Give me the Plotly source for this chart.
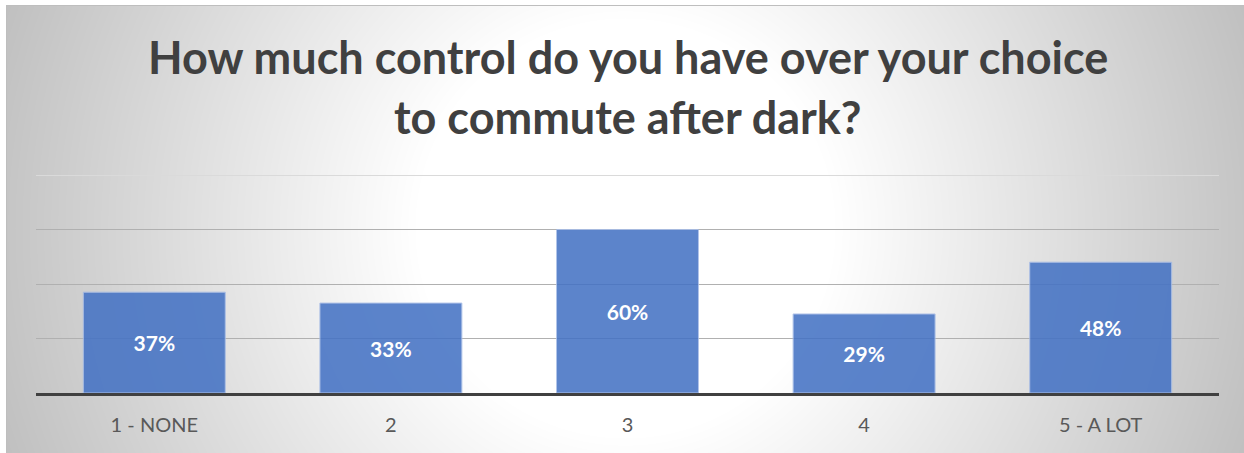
import base64
import struct
import zlib

import numpy as np
import plotly.graph_objects as go

# ---- data ----
categories = ["1 - NONE", "2", "3", "4", "5 - A LOT"]
values = [0.37, 0.33, 0.60, 0.29, 0.48]
value_labels = ["37%", "33%", "60%", "29%", "48%"]
title_lines = ["How much control do you have over your choice", "to commute after dark?"]

# ---- layout geometry (pixels) ----
FIG_W, FIG_H = 1244, 453
M_L, M_R, M_T, M_B = 36, 25, 170, 60
PLOT_W = FIG_W - M_L - M_R
PLOT_H = FIG_H - M_T - M_B
FRAME_X0, FRAME_Y0 = 6, 5
BASE_PX = FIG_H - M_B          # pixel row of 0
TOP_GRID_PX = 175              # pixel row of 80 %
Y_MAX = 0.8 * PLOT_H / (BASE_PX - TOP_GRID_PX)


def px_to_paper_x(px):
    return (px - M_L) / PLOT_W


def px_to_paper_y(py):
    return (FIG_H - M_B - py) / PLOT_H


# ---- radial gradient background image ----
def make_png(arr):
    h, w = arr.shape
    raw = b"".join(b"\x00" + arr[i].tobytes() for i in range(h))

    def chunk(tag, data):
        c = struct.pack(">I", len(data)) + tag + data
        return c + struct.pack(">I", zlib.crc32(tag + data) & 0xFFFFFFFF)

    png = b"\x89PNG\r\n\x1a\n"
    png += chunk(b"IHDR", struct.pack(">IIBBBBB", w, h, 8, 0, 0, 0, 0))
    png += chunk(b"IDAT", zlib.compress(raw, 9))
    png += chunk(b"IEND", b"")
    return "data:image/png;base64," + base64.b64encode(png).decode()


IW, IH = FIG_W - FRAME_X0, FIG_H - FRAME_Y0
cx, cy = 625 - FRAME_X0, 228 - FRAME_Y0
yy, xx = np.mgrid[0:IH, 0:IW]
r = np.sqrt((xx - cx) ** 2 + (yy - cy) ** 2)
R0, R1 = 210.0, 660.0
t = np.clip((r - R0) / (R1 - R0), 0, 1)
g = 255 - 63 * t
g = g.astype(np.uint8)
g[0, :] = 190
g[:, 0] = 190
bg_src = make_png(g)

fig = go.Figure()
fig.add_trace(
    go.Bar(
        x=categories,
        y=values,
        text=value_labels,
        textposition="inside",
        insidetextanchor="middle",
        textangle=0,
        textfont=dict(family="Lato", size=21, color="white", weight="bold"),
        marker=dict(color="#4472C4", opacity=0.87, line=dict(color="#a6bce6", width=1)),
        hoverinfo="skip",
    )
)

fig.add_layout_image(
    dict(
        source=bg_src,
        xref="paper",
        yref="paper",
        x=px_to_paper_x(FRAME_X0),
        y=px_to_paper_y(FRAME_Y0),
        sizex=IW / PLOT_W,
        sizey=IH / PLOT_H,
        xanchor="left",
        yanchor="top",
        sizing="stretch",
        layer="below",
    )
)

title_y = [57, 117]
for line, py in zip(title_lines, title_y):
    fig.add_annotation(
        text=line,
        xref="paper",
        yref="paper",
        x=0.5,
        y=px_to_paper_y(py),
        xanchor="center",
        yanchor="middle",
        showarrow=False,
        font=dict(family="Lato", size=45, color="#404040", weight="bold"),
    )

fig.update_layout(
    width=FIG_W,
    height=FIG_H,
    margin=dict(l=M_L, r=M_R, t=M_T, b=M_B, pad=0),
    paper_bgcolor="white",
    plot_bgcolor="rgba(0,0,0,0)",
    bargap=0.4,
    showlegend=False,
    xaxis=dict(
        showline=True,
        linecolor="#404040",
        linewidth=3,
        ticks="outside",
        ticklen=12,
        tickcolor="rgba(0,0,0,0)",
        tickfont=dict(family="Lato", size=20, color="#595959"),
        showgrid=False,
        fixedrange=True,
    ),
    yaxis=dict(
        range=[0, Y_MAX],
        tickvals=[0.2, 0.4, 0.6],
        showticklabels=False,
        showgrid=True,
        gridcolor="#b0b0b0",
        gridwidth=1,
        zeroline=False,
        minor=dict(tickvals=[0.8], showgrid=True, gridcolor="#dadada", gridwidth=1),
        fixedrange=True,
    ),
)

fig.write_html("out.html", config={"displayModeBar": False})
